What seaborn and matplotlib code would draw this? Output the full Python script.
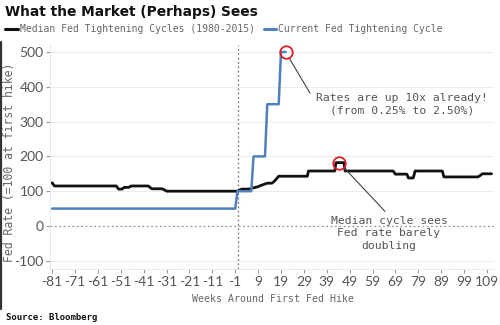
import matplotlib
matplotlib.use("Agg")
import matplotlib.pyplot as plt
import seaborn as sns
import pandas as pd

sns.set_theme(style="white")

# Median of Fed tightening cycles 1980-2015 (index = 100 at first hike)
median_weeks = [-81, -80, -53, -52, -50.5, -49.5, -47.5, -46.5, -39, -37.5, -33, -32, -31,
                0, 1, 2, 5, 6, 9, 10, 13, 15, 16, 18, 30.5, 31,
                42.5, 43, 46.5, 47, 68, 69, 74, 74.7, 76.8, 77.6, 89.5, 90.2,
                105, 106, 107, 111]
median_values = [124, 115, 115, 106, 106, 111, 111, 115, 115, 107, 107, 104, 100,
                 100, 104, 106, 106, 108, 113, 116, 123, 123, 128, 143, 143, 158,
                 158, 182, 182, 158, 158, 149, 149, 138, 138, 158, 158, 141,
                 141, 145, 150, 150]

# Current cycle (index = 100 at first hike)
current_weeks = [-81, -1, 0, 6, 7, 12, 13, 18, 19, 21]
current_values = [50, 50, 100, 100, 200, 200, 350, 350, 500, 500]

x_ticks = list(range(-81, 110, 10))
y_ticks = [-100, 0, 100, 200, 300, 400, 500]

# highlighted points
peak_current = (21, 500)
peak_median = (44.5, 182)

black = "#111111"
blue = "#4f81bd"
red = "#dd1f26"
grey_txt = "#666666"
mono = "DejaVu Sans Mono"

fig = plt.figure(figsize=(5, 3.25), dpi=100)
ax = fig.add_axes([0.0998, 0.1708, 0.8878, 0.6906])

ax.set_xlim(-82, 112)
ax.set_ylim(-125, 520)

# grid and reference lines
for v in y_ticks:
    if v == 0:
        ax.axhline(0, color="#999999", lw=0.9, ls=(0, (1.5, 2)), zorder=1)
    else:
        ax.axhline(v, color="#ececec", lw=0.7, zorder=0)
ax.axvline(0, color="#777777", lw=0.9, ls=(0, (1.5, 2)), zorder=1)

df_med = pd.DataFrame({"week": median_weeks, "value": median_values})
df_cur = pd.DataFrame({"week": current_weeks, "value": current_values})
sns.lineplot(data=df_med, x="week", y="value", color=black, lw=2.0,
             estimator=None, sort=False, ax=ax, zorder=3)
sns.lineplot(data=df_cur, x="week", y="value", color=blue, lw=1.8,
             estimator=None, sort=False, ax=ax, zorder=4)

# circles
for pt in (peak_current, peak_median):
    ax.plot([pt[0]], [pt[1]], marker="o", ms=9, mfc="none", mec=red, mew=1.3, zorder=5)

ax.annotate("Rates are up 10x already!\n(from 0.25% to 2.50%)",
            xy=peak_current, xytext=(71.9, 349), textcoords="data",
            ha="center", va="center", multialignment="center",
            fontsize=8.2, family=mono, color="#555555", linespacing=1.3,
            arrowprops=dict(arrowstyle="-", color="#444444", lw=0.8,
                            relpos=(0.0, 0.55), shrinkA=4, shrinkB=5))
ax.annotate("Median cycle sees\nFed rate barely\ndoubling",
            xy=peak_median, xytext=(66.2, -21.5), textcoords="data",
            ha="center", va="center", multialignment="center",
            fontsize=8.2, family=mono, color="#555555", linespacing=1.35,
            arrowprops=dict(arrowstyle="-", color="#444444", lw=0.8,
                            relpos=(0.5, 1.0), shrinkA=1, shrinkB=5))

# axes styling
ax.set_xticks(x_ticks)
ax.set_xticklabels([str(t) for t in x_ticks])
ax.set_yticks(y_ticks)
ax.set_yticklabels([str(t) for t in y_ticks])
ax.tick_params(axis="both", which="major", labelsize=10, labelcolor="#555555",
               color="#999999", length=3, width=0.8, direction="out")
ax.tick_params(axis="x", pad=2)
ax.tick_params(axis="y", pad=1.5)
ax.xaxis.set_ticks_position("bottom")
ax.yaxis.set_ticks_position("left")
for lab in ax.get_xticklabels() + ax.get_yticklabels():
    lab.set_family("Lato")
for side in ("top", "right"):
    ax.spines[side].set_visible(False)
for side in ("left", "bottom"):
    ax.spines[side].set_color("#e4e4e4")
    ax.spines[side].set_linewidth(0.6)
ax.set_xlabel("")
ax.set_ylabel("")

# figure-level texts
W, H = 500, 325
def fx(px):
    return px / W
def fy(py):
    return 1 - py / H

fig.text(fx(5), fy(12), "What the Market (Perhaps) Sees", fontsize=9.9,
         fontweight="bold", family="DejaVu Sans", color="#111111", va="center", ha="left")

fig.add_artist(plt.Line2D([fx(5), fx(18)], [fy(29), fy(29)], color=black, lw=2.2))
fig.text(fx(20), fy(29), "Median Fed Tightening Cycles (1980-2015)", fontsize=7,
         family=mono, color=grey_txt, va="center", ha="left")
fig.add_artist(plt.Line2D([fx(264), fx(276)], [fy(29), fy(29)], color=blue, lw=2.2))
fig.text(fx(278), fy(29), "Current Fed Tightening Cycle", fontsize=7,
         family=mono, color=grey_txt, va="center", ha="left")

fig.text(fx(10), fy(162), "Fed Rate (=100 at first hike)", fontsize=8.3, family=mono,
         color=grey_txt, rotation=90, va="center", ha="center")
fig.text(fx(273), fy(299), "Weeks Around First Fed Hike", fontsize=7.1, family=mono,
         color=grey_txt, va="center", ha="center")
fig.text(fx(6), fy(317), "Source: Bloomberg", fontsize=6.5, family=mono,
         fontweight="bold", color="#111111", va="center", ha="left")

# dark frame edge on the left
fig.add_artist(plt.Line2D([fx(1), fx(1)], [fy(42), fy(309)], color="#333333", lw=1.6))

fig.savefig("out.png", dpi=100)
